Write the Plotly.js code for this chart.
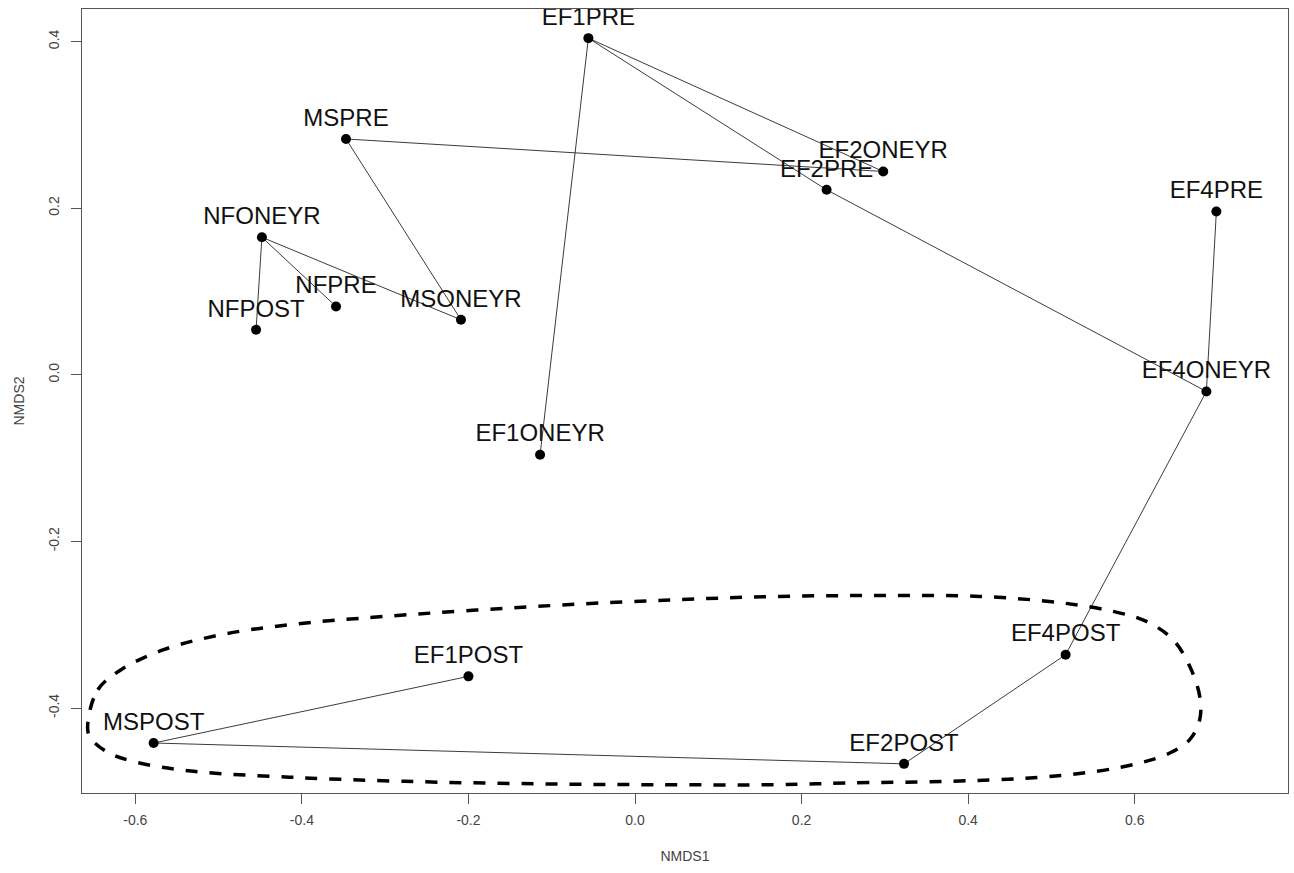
<!DOCTYPE html>
<html>
<head>
<meta charset="utf-8">
<script src="https://cdn.plot.ly/plotly-3.0.1.min.js"></script>
<style>html,body{margin:0;padding:0;background:#fff}</style>
</head>
<body>
<div id="chart" style="width:1294px;height:873px"></div>
<script>
// NMDS site scores
const sites = ['EF1PRE','EF1ONEYR','EF1POST','EF2PRE','EF2ONEYR','EF2POST','EF4PRE','EF4ONEYR','EF4POST','MSPRE','MSONEYR','MSPOST','NFPRE','NFONEYR','NFPOST'];
const nmds1 = [-0.056, -0.114, -0.200, 0.230, 0.298, 0.323, 0.698, 0.686, 0.517, -0.347, -0.209, -0.578, -0.359, -0.448, -0.455];
const nmds2 = [ 0.404, -0.096, -0.362, 0.222, 0.244, -0.467, 0.196, -0.020, -0.336, 0.283, 0.066, -0.442, 0.082, 0.165, 0.054];

// minimum spanning tree edges
const treeFrom = ['EF1PRE','EF1PRE','EF1PRE','EF2ONEYR','MSPRE','MSONEYR','NFONEYR','NFONEYR','EF2PRE','EF4ONEYR','EF4ONEYR','EF4POST','EF2POST','MSPOST'];
const treeTo   = ['EF1ONEYR','EF2ONEYR','EF2PRE','MSPRE','MSONEYR','NFONEYR','NFPOST','NFPRE','EF4ONEYR','EF4PRE','EF4POST','EF2POST','MSPOST','EF1POST'];

// outline drawn around the POST group
const hullX = [-0.657,-0.645,-0.617,-0.566,-0.497,-0.415,-0.300,-0.100,0.050,0.174,0.294,0.414,0.514,0.574,0.614,0.646,0.666,0.678,0.678,0.666,0.642,0.606,0.554,0.474,0.374,0.254,0.174,0.022,-0.116,-0.277,-0.415,-0.530,-0.599,-0.635,-0.655,-0.657];
const hullY = [-0.418,-0.378,-0.354,-0.330,-0.312,-0.300,-0.290,-0.277,-0.270,-0.266,-0.265,-0.266,-0.274,-0.284,-0.296,-0.318,-0.350,-0.386,-0.414,-0.438,-0.454,-0.466,-0.476,-0.484,-0.488,-0.490,-0.492,-0.492,-0.491,-0.488,-0.483,-0.476,-0.465,-0.452,-0.434,-0.418];

const xTicks = [-0.6,-0.4,-0.2,0.0,0.2,0.4,0.6];
const xTickText = ['-0.6','-0.4','-0.2','0.0','0.2','0.4','0.6'];
const yTicks = [-0.4,-0.2,0.0,0.2,0.4];
const yTickText = ['-0.4','-0.2','0.0','0.2','0.4'];

const segX = [], segY = [];
treeFrom.forEach((a, i) => {
  const ia = sites.indexOf(a), ib = sites.indexOf(treeTo[i]);
  segX.push(nmds1[ia], nmds1[ib], null);
  segY.push(nmds2[ia], nmds2[ib], null);
});

const font = 'Liberation Sans, Arial, Helvetica, sans-serif';

const traces = [
  {x: segX, y: segY, mode: 'lines', type: 'scatter',
   line: {color: '#3c3c3c', width: 1}, hoverinfo: 'skip'},
  {x: hullX, y: hullY, mode: 'lines', type: 'scatter',
   line: {color: '#000', width: 3.5, dash: '12px,12px', shape: 'spline', smoothing: 1}, hoverinfo: 'skip'},
  {x: nmds1, y: nmds2, text: sites, mode: 'markers+text', type: 'scatter',
   marker: {color: '#000', size: 10},
   textposition: 'top center',
   textfont: {family: font, size: 24, color: '#111'}}
];

const axisCommon = {
  showgrid: false, zeroline: false,
  showline: true, mirror: true, linecolor: '#555', linewidth: 1,
  ticks: 'outside', ticklen: 10, tickwidth: 1, tickcolor: '#555',
  tickfont: {family: font, size: 14, color: '#444'},
  automargin: false
};

const layout = {
  width: 1294, height: 873, autosize: false,
  margin: {l: 82, r: 6, t: 9, b: 80},
  paper_bgcolor: '#fff', plot_bgcolor: '#fff',
  showlegend: false,
  xaxis: Object.assign({}, axisCommon, {
    range: [-0.664, 0.784],
    tickvals: xTicks, ticktext: xTickText,
    ticklabelstandoff: 4,
    title: {text: 'NMDS1', font: {family: font, size: 14, color: '#444'}, standoff: 24}
  }),
  yaxis: Object.assign({}, axisCommon, {
    range: [-0.502, 0.439],
    tickvals: yTicks, ticktext: yTickText,
    tickangle: -90,
    ticklabelstandoff: 6,
    title: {text: 'NMDS2', font: {family: font, size: 14, color: '#444'}, standoff: 18}
  })
};

Plotly.newPlot('chart', traces, layout, {displayModeBar: false, staticPlot: true});
</script>
</body>
</html>
